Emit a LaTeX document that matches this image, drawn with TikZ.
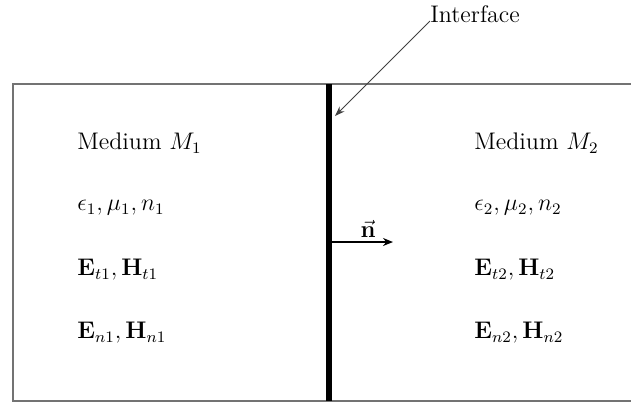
\documentclass[tikz,border=0pt]{standalone}
\usepackage{amsmath}
\usetikzlibrary{arrows.meta}
\begin{document}
\begin{tikzpicture}[x=0.5pt,y=-0.5pt,
  frame/.style={draw=black!55,line width=0.8pt},
  txt/.style={anchor=west,inner sep=0pt,font=\large},
  ptr/.style={draw=black!75,line width=0.5pt,-{Stealth[length=5pt,width=3.5pt]}}]
\useasboundingbox (0,0) rectangle (631,404);
\draw[frame] (640,84) -- (13,84) -- (13,401) -- (640,401);
\coordinate (itop) at (329,84);
\coordinate (ibot) at (329,401);
\draw[line width=2.8pt] (itop) -- (ibot);
\node[txt] (m1) at (77,143) {Medium $M_1$};
\node[txt] (p1) at (77,208) {$\epsilon_1,\mu_1,n_1$};
\node[txt] (t1) at (77,270) {$\mathbf{E}_{t1},\mathbf{H}_{t1}$};
\node[txt] (n1) at (77,333) {$\mathbf{E}_{n1},\mathbf{H}_{n1}$};
\node[txt] (m2) at (474,143) {Medium $M_2$};
\node[txt] (p2) at (474,208) {$\epsilon_2,\mu_2,n_2$};
\node[txt] (t2) at (474,270) {$\mathbf{E}_{t2},\mathbf{H}_{t2}$};
\node[txt] (n2) at (474,333) {$\mathbf{E}_{n2},\mathbf{H}_{n2}$};
\node[inner sep=0pt,anchor=west] (lab) at (430,14) {\large Interface};
\coordinate (ipt) at (335,116);
\draw[ptr] (lab.west) ++(0,7) -- (ipt);
\coordinate (ns) at (331,242);
\coordinate (ne) at (393,242);
\draw[line width=0.8pt,-{Stealth[length=5pt,width=4pt]}] (ns) -- (ne);
\node[inner sep=0pt,font=\large] (nv) at (368,229) {$\vec{\mathbf{n}}$};
\end{tikzpicture}
\end{document}
